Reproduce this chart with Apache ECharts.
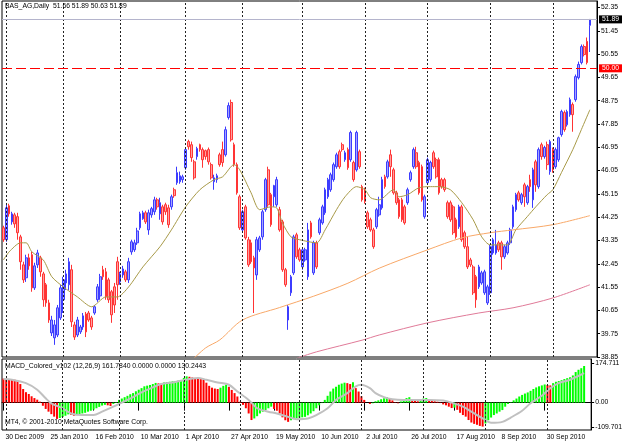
<!DOCTYPE html>
<html>
<head>
<meta charset="utf-8">
<script src="https://cdn.jsdelivr.net/npm/echarts@6/dist/echarts.min.js"></script>
<style>
  html, body { margin: 0; padding: 0; background: #fff; }
  #chart { width: 625px; height: 442px; }
</style>
</head>
<body>
<div id="chart"></div>
<script>
// daily bars, BAS_AG, 30 Dec 2009 .. Oct 2010
const openPx = [
  43.84,43.38,44.69,44.07,44.34,44.27,43.49,42.41,41.91,42.68,
  42.80,41.52,42.41,42.68,42.06,41.64,40.94,39.78,39.59,39.70,
  40.36,41.06,41.71,41.64,42.22,40.09,39.70,39.82,40.01,40.51,
  40.55,40.36,40.55,41.06,41.21,42.22,42.14,41.83,41.37,41.56,
  42.53,41.75,42.02,42.14,41.83,42.91,42.99,43.26,43.84,44.19,
  44.42,43.76,44.34,44.46,44.92,44.38,44.65,44.73,44.61,44.65,
  45.31,45.58,45.62,45.70,46.16,47.17,47.05,46.39,46.59,47.05,
  46.86,46.82,46.86,46.28,45.62,45.70,46.66,46.86,46.66,48.10,
  48.68,47.05,46.28,45.04,43.76,44.65,43.38,43.26,42.68,42.02,
  42.99,43.49,44.54,46.08,45.12,45.04,44.73,44.54,44.07,42.22,
  40.28,41.33,42.10,43.57,42.99,42.33,42.60,41.95,44.03,42.10,
  43.26,43.65,44.03,44.42,45.04,45.31,45.70,46.20,46.78,47.05,
  46.47,46.86,46.47,46.36,46.08,46.78,45.43,45.31,44.42,44.15,
  43.76,43.88,44.34,44.61,45.81,45.81,46.66,46.08,45.19,44.92,
  44.92,44.65,44.81,45.70,46.20,46.74,46.36,46.20,44.27,45.58,
  45.70,46.74,46.47,46.47,45.70,45.70,44.81,44.81,44.65,44.15,
  43.88,44.65,43.65,43.11,42.60,42.33,41.95,41.56,41.71,41.33,
  40.94,41.33,42.87,42.87,43.26,43.26,42.72,42.87,43.26,43.88,
  44.54,45.19,44.81,45.50,44.81,45.70,44.92,46.39,45.43,47.05,
  46.59,47.05,46.01,46.86,46.20,46.47,47.44,48.29,47.82,48.21,
  48.60,48.79,49.64,50.22,50.84,51.04,51.66
];
const closePx = [
  43.38,44.61,44.38,44.38,43.99,43.65,42.53,41.83,42.68,42.37,
  41.52,42.37,42.87,42.14,41.06,40.94,40.28,40.28,40.09,40.75,
  41.52,41.83,42.06,42.53,40.21,39.62,40.28,40.01,40.44,39.82,
  40.28,40.01,40.79,41.56,41.95,41.95,41.17,41.06,40.48,40.86,
  41.64,42.06,42.25,41.83,42.53,43.30,43.26,43.72,44.38,44.42,
  44.07,44.42,44.58,44.92,44.65,44.81,44.07,44.46,43.96,45.04,
  45.08,45.97,45.85,45.81,46.86,46.97,46.55,45.77,46.90,46.86,
  46.47,46.59,46.39,45.77,45.77,45.85,46.28,46.36,47.63,48.56,
  47.24,46.28,45.19,43.84,44.46,43.45,42.41,42.53,42.29,43.38,
  43.45,44.46,45.70,44.73,43.96,45.47,45.70,43.76,42.22,41.64,
  40.79,41.95,43.49,42.72,42.60,42.99,42.99,43.76,43.49,43.26,
  42.33,44.15,44.65,45.31,45.70,45.89,46.28,46.66,46.20,46.86,
  46.74,46.16,47.52,45.70,47.52,46.20,44.92,44.85,43.88,43.76,
  43.11,44.54,44.73,45.70,45.43,46.39,46.20,45.19,44.81,44.27,
  44.15,44.03,45.31,45.97,46.86,46.20,45.19,44.92,45.04,46.47,
  46.36,46.20,45.81,45.19,45.43,45.31,44.27,44.15,43.65,43.49,
  44.65,43.38,43.11,42.33,42.41,41.33,41.06,42.33,42.10,42.14,
  41.56,43.11,43.38,43.18,42.99,42.72,43.11,43.26,43.76,44.65,
  45.12,44.92,45.12,45.04,45.43,45.43,46.08,45.50,46.86,46.59,
  46.94,46.28,47.17,46.08,46.86,47.32,48.33,47.63,48.33,48.79,
  48.21,49.68,50.15,50.84,50.53,50.22,51.89
];
const lowPx = [
  43.30,43.30,44.27,43.96,43.84,43.38,42.22,41.71,41.75,42.22,
  41.37,41.44,42.29,41.95,40.79,40.79,40.17,39.66,39.32,39.62,
  40.28,40.55,41.44,41.44,40.01,39.51,39.62,39.74,39.90,39.62,
  40.21,39.90,40.48,40.98,41.06,41.83,41.06,40.94,40.17,40.55,
  41.06,41.64,41.91,41.75,41.71,42.80,42.91,43.18,43.76,44.15,
  43.99,43.57,44.23,44.34,44.54,44.15,43.96,44.34,43.84,44.54,
  45.00,45.50,45.54,45.58,46.08,46.86,46.39,45.70,46.47,46.78,
  46.16,46.47,46.28,45.70,45.31,45.58,46.20,46.20,46.59,48.02,
  47.17,46.20,45.12,43.76,43.69,43.38,42.33,42.45,40.55,41.83,
  42.91,43.38,44.46,44.65,43.88,44.65,44.65,43.69,42.14,41.56,
  39.90,41.21,42.02,42.64,42.53,42.22,42.53,41.83,43.42,42.02,
  42.25,43.57,43.96,44.34,44.96,45.23,45.62,46.12,46.12,46.78,
  46.39,46.08,46.39,45.62,46.01,46.12,44.85,44.77,43.80,43.69,
  43.03,43.80,44.27,44.54,45.35,45.74,45.81,45.12,44.73,44.19,
  44.07,43.96,44.73,45.62,46.12,46.12,45.12,44.85,44.19,45.50,
  45.62,46.12,45.74,45.12,45.35,45.23,44.19,44.07,43.57,43.42,
  43.80,43.30,43.03,42.25,42.33,41.25,40.75,41.48,41.64,41.25,
  40.86,41.25,42.80,42.80,42.91,42.22,42.64,42.80,43.18,43.80,
  44.46,44.85,44.73,44.65,44.73,45.23,44.61,45.23,45.35,46.47,
  46.51,46.08,45.89,45.97,46.12,46.39,47.36,47.55,47.75,48.13,
  47.55,48.71,49.57,50.15,50.46,50.15,50.63
];
const highPx = [
  43.92,44.73,44.77,44.46,44.42,44.42,43.57,42.53,42.80,42.84,
  42.91,42.49,42.99,42.76,42.14,41.71,41.06,40.44,40.28,40.86,
  41.64,41.95,42.22,42.68,42.41,40.21,40.40,40.09,40.55,40.59,
  40.63,40.44,40.86,41.67,42.06,42.37,42.29,41.91,41.44,41.71,
  42.72,42.14,42.37,42.22,42.68,43.38,43.38,43.84,44.46,44.50,
  44.50,44.54,44.65,45.04,45.00,45.00,44.73,44.81,44.73,45.12,
  45.39,46.20,46.01,45.89,46.94,47.24,47.17,46.47,46.97,47.09,
  46.94,46.86,46.94,46.36,45.89,45.93,46.74,47.17,47.75,48.68,
  48.79,47.13,46.36,45.12,44.54,44.73,43.49,43.38,42.76,43.49,
  43.53,44.54,45.77,46.20,45.19,45.50,45.81,44.65,44.15,42.29,
  40.86,42.02,43.57,43.65,43.07,43.07,43.07,44.03,44.11,43.34,
  43.34,44.23,44.73,45.39,45.77,45.97,46.36,46.74,46.86,47.13,
  46.82,46.94,47.59,46.43,47.59,46.86,45.50,45.39,44.50,44.23,
  43.84,44.61,45.04,45.81,45.89,46.47,46.86,46.16,45.27,45.00,
  45.00,44.73,45.39,46.05,46.94,46.97,46.43,46.28,45.12,46.55,
  46.43,46.82,46.55,46.55,45.77,45.77,44.89,44.89,44.73,44.23,
  44.73,44.73,43.73,43.49,42.68,42.41,42.02,42.41,42.18,42.22,
  41.64,43.18,43.45,43.76,43.34,43.34,43.18,43.34,43.84,44.73,
  45.19,45.27,45.19,45.58,45.50,45.89,46.16,46.47,46.94,47.13,
  47.01,47.17,47.24,46.94,46.94,47.36,48.40,48.37,48.40,48.87,
  48.68,49.76,50.26,50.92,50.92,51.19,51.89
];

// moving averages as [bar, price]
const maOlive = [
  [0,42.60],[2,42.91],[6,43.26],[8,43.26],[10,42.91],[14,42.60],[17,41.95],[21,41.56],
  [26,41.17],[31,40.79],[36,41.17],[40,41.17],[44,41.56],[49,42.33],[55,43.11],[59,43.76],
  [64,44.65],[69,45.31],[74,45.70],[77,45.81],[81,46.28],[83,46.08],[87,45.19],[90,44.54],
  [94,44.65],[96,44.61],[98,44.03],[101,43.49],[104,43.38],[110,43.26],[113,43.76],[117,44.54],
  [120,45.04],[124,45.43],[127,45.31],[129,45.00],[132,44.92],[137,45.31],[139,45.04],[142,45.12],
  [146,45.39],[150,45.43],[153,45.43],[157,45.31],[161,44.81],[165,44.15],[168,43.49],[171,43.18],
  [177,43.18],[180,43.76],[184,44.27],[187,44.65],[191,45.12],[193,45.31],[196,45.97],[200,46.86],
  [203,47.63],[206,48.40]
];
const maOrange = [
  [66,38.70],[71,39.20],[76,39.51],[84,40.28],[97,40.76],[109,41.20],[121,41.70],[132,42.28],
  [149,42.99],[161,43.45],[171,43.65],[179,43.76],[193,43.96],[206,44.31]
];
const maPink = [
  [103,38.80],[110,39.05],[126,39.50],[132,39.70],[149,40.17],[167,40.55],[179,40.75],
  [193,41.13],[206,41.64]
];

// MACD main (histogram) and signal
const macdHist = [
  106,105,104,103,101,97,82,60,46,38,
  28,20,13,4,-14,-28,-40,-51,-62,-72,
  -68,-64,-58,-52,-54,-58,-55,-52,-48,-45,
  -40,-36,-31,-25,-19,-13,-10,-12,-15,-6,
  2,12,18,24,30,37,42,50,57,64,
  72,75,78,82,87,85,84,89,91,92,
  94,95,97,100,109,116,114,111,109,107,
  104,101,88,74,66,62,60,66,74,79,
  70,56,42,27,4,-10,-25,-48,-77,-70,
  -60,-48,-40,-33,-25,-18,-28,-36,-48,-65,
  -78,-85,-78,-73,-70,-67,-65,-63,-56,-48,
  -38,-25,-12,-2,12,30,49,62,70,79,
  84,88,86,82,90,64,49,28,12,0,
  -6,-3,6,10,15,19,24,16,10,2,
  -3,5,14,20,24,16,12,6,10,18,
  20,12,8,6,4,-2,-8,-12,-18,-24,
  -22,-32,-45,-55,-62,-77,-88,-94,-98,-103,
  -106,-92,-78,-66,-55,-48,-40,-33,-18,-6,
  2,10,18,27,34,40,45,52,60,67,
  72,76,80,78,76,86,92,95,99,104,
  108,112,120,135,145,152,161.784
];
const macdSignal = [
  [0,104],[3,101],[8,86],[12,57],[15,19],[17,-3],[21,-25],[24,-48],[28,-55],[32,-55],
  [35,-40],[39,-18],[42,0],[46,24],[49,45],[53,67],[56,82],[60,89],[63,97],[67,106],
  [69,109],[72,101],[76,89],[80,79],[83,49],[87,12],[90,-25],[94,-40],[97,-48],[101,-63],
  [104,-73],[108,-70],[111,-55],[115,-25],[118,12],[122,42],[125,72],[127,79],[130,64],[132,42],
  [135,24],[138,15],[142,12],[146,12],[151,12],[156,9],[159,0],[163,-18],[166,-40],[170,-70],
  [173,-89],[177,-85],[180,-66],[184,-36],[187,-3],[191,30],[194,64],[197,86],[201,101],[205,124],
  [206,130.2443]
];

const dateLabels = ['30 Dec 2009','25 Jan 2010','16 Feb 2010','10 Mar 2010','1 Apr 2010','27 Apr 2010',
  '19 May 2010','10 Jun 2010','2 Jul 2010','26 Jul 2010','17 Aug 2010','8 Sep 2010','30 Sep 2010'];
const labelStep = 16;
const monthStarts = [1,21,41,64,84,105,127,149,171,193];
const slotCount = 209; // bars plus the empty shift at the right
const macdMarks = [-109.701, 0, 174.711];

const FONT = 'Liberation Sans, Arial, sans-serif';
const FS = 6.8;

const chart = echarts.init(document.getElementById('chart'), null, { renderer: 'canvas' });

const cats = Array.from({ length: slotCount }, (_, i) => String(i));
const candles = openPx.map((o, i) => [o, closePx[i], lowPx[i], highPx[i]]);
const histBars = macdHist.map((v, i) => ({
  value: v,
  itemStyle: { color: (i === 0 || v < macdHist[i - 1]) ? '#ff0000' : '#00ff00' }
}));

const monthLines = monthStarts.map(m => ({
  xAxis: m,
  label: { show: false },
  lineStyle: { color: '#222', type: [2, 2], width: 1 }
}));

const isLabelIdx = idx => idx % labelStep === 0 && idx / labelStep < dateLabels.length;

const option = {
  animation: false,
  backgroundColor: '#fff',
  textStyle: { fontFamily: FONT },
  grid: [
    { left: 2, right: 28, top: 1, height: 356, show: true, borderColor: '#000', borderWidth: 1, backgroundColor: '#fff' },
    { left: 2, right: 28, top: 359, height: 71, show: true, borderColor: '#000', borderWidth: 1, backgroundColor: '#fff' }
  ],
  xAxis: [
    {
      type: 'category', gridIndex: 0, data: cats, boundaryGap: true,
      axisLine: { show: false }, axisTick: { show: false }, axisLabel: { show: false }, splitLine: { show: false }
    },
    {
      type: 'category', gridIndex: 1, data: cats, boundaryGap: true,
      axisLine: { show: true, lineStyle: { color: '#000', width: 1 } },
      axisTick: { show: true, alignWithLabel: true, interval: isLabelIdx, length: 8, lineStyle: { color: '#000' } },
      axisLabel: {
        show: true, interval: isLabelIdx, align: 'left', margin: 4, padding: [0, 0, 0, 2],
        fontSize: FS, color: '#000', fontFamily: FONT,
        formatter: (v, idx) => dateLabels[idx / labelStep] || ''
      },
      splitLine: { show: false }
    }
  ],
  yAxis: [
    {
      type: 'value', gridIndex: 0, position: 'right', min: 38.85, max: 52.60, interval: 0.9,
      axisLine: { show: true, lineStyle: { color: '#000' } },
      axisTick: { show: true, length: 3, lineStyle: { color: '#000' } },
      axisLabel: { fontSize: FS, color: '#000', margin: 4, fontFamily: FONT, showMaxLabel: false,
        formatter: v => v.toFixed(2) },
      splitLine: { show: false }
    },
    {
      type: 'value', gridIndex: 1, position: 'right', min: -121, max: 192.6,
      axisLine: { show: true, lineStyle: { color: '#000' } },
      axisTick: { show: true, length: 3, customValues: macdMarks, lineStyle: { color: '#000' } },
      axisLabel: { fontSize: FS, color: '#000', margin: 4, fontFamily: FONT, customValues: macdMarks,
        formatter: v => (v === 0 ? '0.00' : String(v)) },
      splitLine: { show: false }
    }
  ],
  series: [
    {
      type: 'candlestick', xAxisIndex: 0, yAxisIndex: 0, data: candles, barWidth: 2.2,
      itemStyle: { color: '#a4a4ff', color0: '#ffa0a0', borderColor: '#3c3cff', borderColor0: '#ff3434', borderWidth: 1 },
      markLine: {
        silent: true, symbol: ['none', 'none'], animation: false,
        data: monthLines.concat([
          {
            yAxis: 50.00,
            lineStyle: { color: '#ff0000', type: [10, 4], width: 1 },
            label: { show: true, position: 'end', distance: 2, formatter: '50.00', color: '#fff',
              backgroundColor: '#ff0000', padding: [1, 3, 0, 3], fontSize: FS, fontFamily: FONT }
          },
          {
            yAxis: 51.89,
            lineStyle: { color: '#b4b4cc', type: 'solid', width: 1 },
            label: { show: true, position: 'end', distance: 2, formatter: '51.89', color: '#fff',
              backgroundColor: '#000', padding: [1, 3, 0, 3], fontSize: FS, fontFamily: FONT }
          }
        ])
      }
    },
    { type: 'line', xAxisIndex: 0, yAxisIndex: 0, data: maOlive, showSymbol: false, smooth: 0.25,
      lineStyle: { color: '#a89a48', width: 1 }, silent: true },
    { type: 'line', xAxisIndex: 0, yAxisIndex: 0, data: maOrange, showSymbol: false, smooth: 0.3,
      lineStyle: { color: '#f8a868', width: 1 }, silent: true },
    { type: 'line', xAxisIndex: 0, yAxisIndex: 0, data: maPink, showSymbol: false, smooth: 0.3,
      lineStyle: { color: '#e07a98', width: 1 }, silent: true },
    {
      type: 'bar', xAxisIndex: 1, yAxisIndex: 1, data: histBars, barWidth: 2,
      markLine: { silent: true, symbol: ['none', 'none'], animation: false, data: monthLines }
    },
    { type: 'line', xAxisIndex: 1, yAxisIndex: 1, data: macdSignal, showSymbol: false, smooth: 0.3,
      lineStyle: { color: '#c0c0c0', width: 2 }, silent: true }
  ],
  graphic: [
    { type: 'text', left: 5, top: 3, z: 100,
      style: { text: 'BAS_AG,Daily  51.66 51.89 50.63 51.89', fill: '#000', fontSize: FS, fontFamily: FONT } },
    { type: 'text', left: 5, top: 363, z: 100,
      style: { text: 'MACD_Colored_v102 (12,26,9) 161.7840 0.0000 0.0000 130.2443', fill: '#000', fontSize: FS, fontFamily: FONT } },
    { type: 'text', left: 5, top: 419, z: 100,
      style: { text: 'MT4, © 2001-2010 MetaQuotes Software Corp.', fill: '#000', fontSize: FS, fontFamily: FONT } }
  ]
};

chart.setOption(option);
window.addEventListener('resize', () => chart.resize());
</script>
</body>
</html>
